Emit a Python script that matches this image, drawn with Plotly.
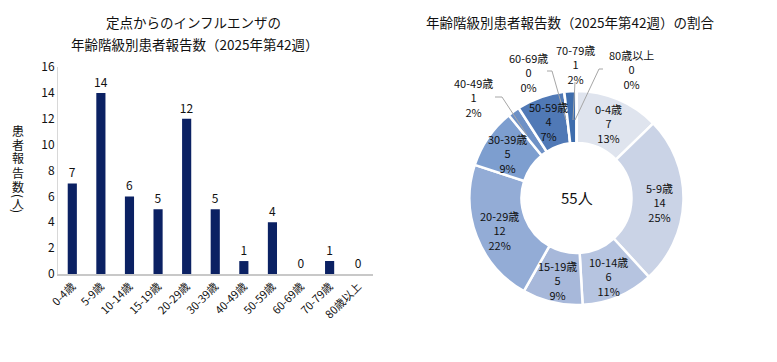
import math
import plotly.graph_objects as go

categories = ["0-4歳", "5-9歳", "10-14歳", "15-19歳", "20-29歳", "30-39歳",
              "40-49歳", "50-59歳", "60-69歳", "70-79歳", "80歳以上"]
counts = [7, 14, 6, 5, 12, 5, 1, 4, 0, 1, 0]
y_ticks = [0, 2, 4, 6, 8, 10, 12, 14, 16]

bar_title_lines = ["定点からのインフルエンザの", "年齢階級別患者報告数（2025年第42週）"]
pie_title = "年齢階級別患者報告数（2025年第42週）の割合"
y_title_chars = ["患", "者", "報", "告", "数", "(", "人", ")"]
slice_colors = ["#dfe4ee", "#cad3e6", "#b6c4e0", "#a7b8da", "#93acd6", "#7d9ecf",
                "#6e91c6", "#5079b6", "#4670b0", "#3e6dad", "#3a66a6"]
outside_slices = ["40-49歳", "60-69歳", "70-79歳", "80歳以上"]

# page body has an 8px margin; the figure is sized so that it fits the window
OFF = 8
W, H = 777 - 2 * OFF, 362 - 2 * OFF
FONT = "Noto Sans CJK JP"


def px(x):
    return (x - OFF) / W


def py(y):
    return 1 - (y - OFF) / H


total = sum(counts)

# donut geometry (window pixels)
CX, CY, R_OUT, R_IN = 576.5, 198, 107, 55

fig = go.Figure()

fig.add_trace(go.Bar(
    x=categories, y=counts, width=0.32,
    marker=dict(color="#0b2163", line=dict(width=0)),
    text=[str(v) for v in counts], textposition="outside",
    constraintext="none",
    textfont=dict(size=12, color="#111111", family=FONT),
    cliponaxis=False, xaxis="x", yaxis="y", showlegend=False,
))

fig.add_trace(go.Pie(
    labels=categories, values=counts, hole=R_IN / R_OUT, sort=False,
    direction="clockwise", rotation=0,
    marker=dict(colors=slice_colors, line=dict(color="white", width=2.5)),
    textinfo="none",
    domain=dict(x=[px(CX - R_OUT), px(CX + R_OUT)], y=[py(CY + R_OUT), py(CY - R_OUT)]),
    showlegend=False, hoverinfo="label+value+percent",
))

fig.update_layout(
    width=W, height=H, margin=dict(l=0, r=0, t=0, b=0, autoexpand=False),
    paper_bgcolor="white", plot_bgcolor="white",
    font=dict(family=FONT, color="#111111"),
    xaxis=dict(domain=[px(58), px(372.5)], showgrid=False, showline=True,
               linecolor="#c8c8c8", linewidth=1.5, ticks="", tickangle=-45,
               automargin=False,
               tickfont=dict(size=11, family=FONT, color="#111111"), zeroline=False),
    yaxis=dict(domain=[py(274), py(67)], range=[0, 16], tickvals=y_ticks,
               showgrid=False, showline=True, linecolor="#d8d8d8", linewidth=1,
               ticks="", zeroline=False, automargin=False,
               tickfont=dict(size=12, family=FONT, color="#111111")),
)


def note(x, y, text, size=11, angle=0):
    return dict(x=px(x), y=py(y), xref="paper", yref="paper", text=text,
                showarrow=False, xanchor="center", yanchor="middle",
                textangle=angle,
                font=dict(size=size, family=FONT, color="#111111"))


annotations = [
    note(193, 22, bar_title_lines[0], 13.5),
    note(194, 44, bar_title_lines[1], 13.5),
    note(570, 22, pie_title, 13.5),
]

# vertical axis title: CJK characters stacked upright, brackets turned sideways
y_char_pos = [130, 144, 158, 172, 186, 196, 203, 211]
for ch, yy in zip(y_title_chars, y_char_pos):
    ang = 90 if ch in "()" else 0
    annotations.append(note(18, yy, ch, 12, ang))

annotations.append(note(CX, CY - 1, f"{total}人", 15))

# inside labels placed at each slice's mid angle, computed from the data
r_mid = (R_OUT + R_IN) / 2 + 2
cum = 0
for c, v in zip(categories, counts):
    mid = (cum + v / 2) / total
    cum += v
    if c in outside_slices:
        continue
    ang = 2 * math.pi * mid
    lx = CX + r_mid * math.sin(ang)
    ly = CY - r_mid * math.cos(ang) + 2
    pct = round(100 * v / total)
    annotations.append(note(lx, ly, f"{c}<br>{v}<br>{pct}%", 11))

label_pos = {"40-49歳": (473, 98), "60-69歳": (528, 72),
             "70-79歳": (575, 64), "80歳以上": (631, 70)}
leaders = {"40-49歳": [(495, 97), (502, 97), (527, 135)],
           "60-69歳": [(547, 71), (552, 71), (566, 120)],
           "70-79歳": [(575, 82), (573, 120)],
           "80歳以上": [(603, 69), (599, 69), (575, 120)]}
for c, v in zip(categories, counts):
    if c in outside_slices:
        pct = round(100 * v / total)
        lx, ly = label_pos[c]
        annotations.append(note(lx, ly, f"{c}<br>{v}<br>{pct}%", 11))

shapes = []
for c in outside_slices:
    pts = leaders[c]
    for (x0, y0), (x1, y1) in zip(pts[:-1], pts[1:]):
        shapes.append(dict(type="line", xref="paper", yref="paper",
                           x0=px(x0), y0=py(y0), x1=px(x1), y1=py(y1),
                           line=dict(color="#a6a6a6", width=1), layer="above"))

fig.update_layout(annotations=annotations, shapes=shapes)

fig.write_html("out.html")
